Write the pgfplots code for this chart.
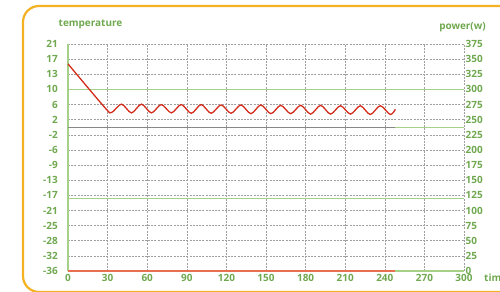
\documentclass[border=0pt]{standalone}
\usepackage{fontspec}
\setmainfont{Open Sans}
\usepackage{pgfplots}
\pgfplotsset{compat=1.18}
\definecolor{txtgreen}{RGB}{112,168,80}
\definecolor{lgreen}{RGB}{165,208,135}
\definecolor{curvered}{RGB}{212,44,28}
\definecolor{botred}{RGB}{232,112,80}
\definecolor{frameor}{RGB}{244,178,35}
\definecolor{gridgray}{RGB}{160,160,160}
\definecolor{midgray}{RGB}{135,135,135}
\begin{document}
\begin{tikzpicture}[x=1bp,y=1bp]
\draw[frameor, line width=2.2bp, rounded corners=16bp] (23,-1) rectangle (560,285);
\begin{axis}[at={(68bp,20bp)}, anchor=south west, scale only axis,
  width=396bp, height=227bp,
  xmin=0, xmax=300, ymin=-36, ymax=21,
  xtick={0,30,...,300},
  ytick={-36,-32.2,-28.4,-24.6,-20.8,-17,-13.2,-9.4,-5.6,-1.8,2,5.8,9.6,13.4,17.2,21},
  yticklabels={-36,-32,-28,-25,-21,-17,-13,-9,-6,-2,2,6,10,13,17,21},
  grid=major,
  major grid style={gridgray, dash pattern=on 2bp off 1.2bp, line width=0.6bp},
  axis x line=bottom, axis y line=left,
  x axis line style={draw=none},
  y axis line style={lgreen, line width=1.2bp, -},
  major tick length=0pt,
  /pgf/number format/assume math mode=true,
  tick label style={font=\fontsize{10}{12}\selectfont\bfseries, text=txtgreen},
  yticklabel style={anchor=east, inner sep=0pt, xshift=-10bp},
  xticklabel style={anchor=north, inner sep=0pt, yshift=-3bp},
  clip=false,
]
% horizontal reference lines
\addplot[lgreen, line width=1.2bp] coordinates {(0,9.6) (300,9.6)};
\addplot[lgreen, line width=1.2bp] coordinates {(0,-17.75) (300,-17.75)};
\addplot[midgray, line width=1.3bp] coordinates {(0,0) (248,0)};
\addplot[lgreen, line width=1.3bp] coordinates {(248,0) (300,0)};
\addplot[botred, line width=1.3bp] coordinates {(0,-36) (248,-36)};
\addplot[lgreen, line width=1.3bp] coordinates {(248,-36) (300,-36)};
% temperature curve
\addplot[curvered, line width=1.3bp, smooth, tension=0.5] coordinates {
(0,16) (28,5.0) (33,3.8) (40.5,5.9) (48.1,3.7) (55.6,5.9) (63.2,3.7) (70.7,5.8)
(78.3,3.7) (85.8,5.8) (93.4,3.6) (100.9,5.8) (108.4,3.6) (116,5.7) (123.5,3.6)
(131,5.7) (138.6,3.5) (146.1,5.7) (153.7,3.5) (161.2,5.6) (168.7,3.5) (176.3,5.6)
(183.8,3.4) (191.4,5.6) (198.9,3.4) (206.4,5.5) (214,3.4) (221.5,5.5) (229,3.3)
(236.6,5.5) (244.1,3.3) (248,4.6)};
\end{axis}
\begin{axis}[at={(68bp,20bp)}, anchor=south west, scale only axis,
  width=396bp, height=227bp,
  xmin=0, xmax=300, ymin=0, ymax=375,
  ytick={0,25,...,375},
  axis y line*=right, axis x line=none,
  y axis line style={draw=none},
  major tick length=0pt,
  /pgf/number format/assume math mode=true,
  tick label style={font=\fontsize{10}{12}\selectfont\bfseries, text=txtgreen},
  yticklabel style={anchor=west, inner sep=0pt, xshift=1.5bp},
]
\addplot[draw=none] coordinates {(0,0) (300,375)};
\end{axis}
\node[anchor=base, text=txtgreen, font=\fontsize{10}{12}\selectfont\bfseries] at (90.5,264.5) {temperature};
\node[anchor=base, text=txtgreen, font=\fontsize{10}{12}\selectfont\bfseries] at (462.5,262) {power(w)};
\node[anchor=base west, text=txtgreen, font=\fontsize{10}{12}\selectfont\bfseries, inner sep=0pt] at (484,9.5) {time};
\pgfresetboundingbox
\useasboundingbox (0,0) rectangle (500,291);
\end{tikzpicture}
\end{document}
